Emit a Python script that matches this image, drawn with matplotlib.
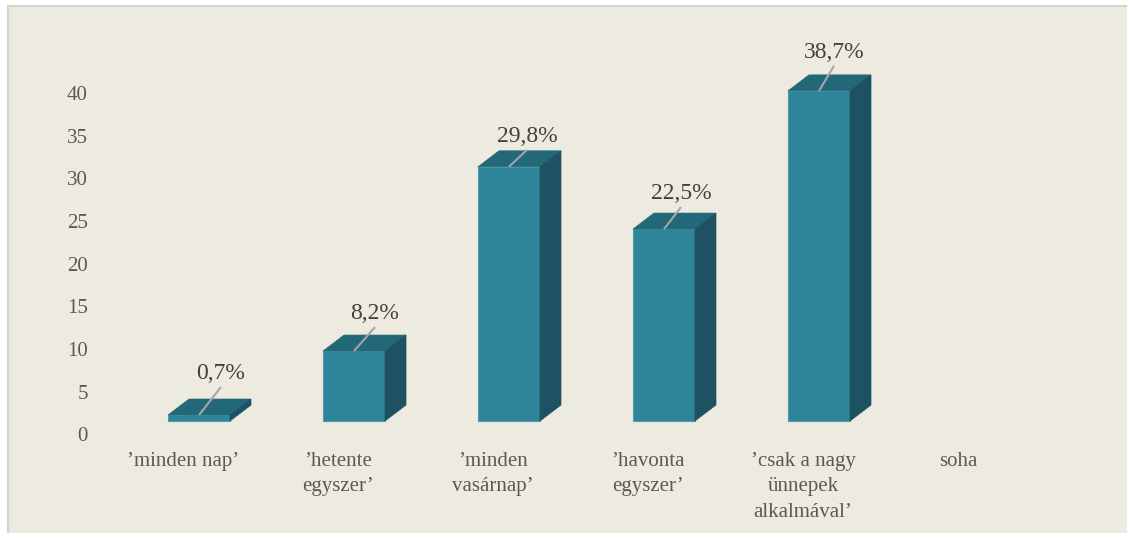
import matplotlib.pyplot as plt
from matplotlib.patches import Polygon, Rectangle

categories = ["’minden nap’", "’hetente\negyszer’", "’minden\nvasárnap’",
              "’havonta\negyszer’", "’csak a nagy\nünnepek\nalkalmával’", "soha"]
values = [0.7, 8.2, 29.8, 22.5, 38.7, None]
value_labels = ["0,7%", "8,2%", "29,8%", "22,5%", "38,7%"]
yticks = [0, 5, 10, 15, 20, 25, 30, 35, 40]

# leader line offsets for the value labels, in pixels (dx, dy)
leader_px = [(22, 28), (21, 24), (18, 17), (17, 22), (15, 25)]

W, H, DPI = 1127, 533, 100
fig = plt.figure(figsize=(W / DPI, H / DPI), dpi=DPI, facecolor="white")

# beige chart area with a light grey frame
fig.patches.append(Rectangle((8 / W, -0.1), 1.2, 1.1 - 6 / H, transform=fig.transFigure,
                             facecolor="#EDEAE0", edgecolor="#D4D4D4", linewidth=1.5,
                             zorder=-5))

ax = fig.add_axes([0, 0, 1, 1])
ax.set_facecolor("none")
ax.axis("off")

# pixel -> data scale: one category = 155 px, one unit = 8.53 px
px_x = 1 / 155
px_y = 1 / 8.53
ax.set_xlim(-199 * px_x, (W - 199) * px_x)
ax.set_ylim(-(H - 421) * px_y, 421 * px_y)

serif = ["Liberation Serif", "DejaVu Serif"]
front_c = "#2E8599"
top_c = "#236878"
side_c = "#1E5262"
edge_c = "#4E9CAE"

bw = 62 * px_x          # bar width
dx = 21 * px_x          # depth offset
dy = 16 * px_y

for i, v in enumerate(values):
    if v is None:
        continue
    x0 = i - bw / 2
    x1 = i + bw / 2
    ax.add_patch(Polygon([(x0, 0), (x1, 0), (x1, v), (x0, v)], closed=True,
                         facecolor=front_c, edgecolor=edge_c, linewidth=0.8, zorder=3))
    ax.add_patch(Polygon([(x0, v), (x1, v), (x1 + dx, v + dy), (x0 + dx, v + dy)],
                         closed=True, facecolor=top_c, edgecolor=top_c, linewidth=0.5,
                         zorder=3))
    ax.add_patch(Polygon([(x1, 0), (x1 + dx, dy), (x1 + dx, v + dy), (x1, v)],
                         closed=True, facecolor=side_c, edgecolor=side_c, linewidth=0.5,
                         zorder=3))
    # leader line and value label
    ldx, ldy = leader_px[i]
    lx1, ly1 = i + ldx * px_x, v + ldy * px_y
    ax.plot([i, lx1], [v, ly1], color="#A6A6A6", linewidth=1.5, zorder=4,
            solid_capstyle="butt")
    ax.text(lx1, ly1 + 8 * px_y, value_labels[i], ha="center", va="baseline",
            family=serif, fontsize=17, color="#404040", zorder=5)

# value axis labels
for t in yticks:
    ax.text(-111 * px_x, t - 1.85, str(t), ha="right", va="center",
            family=serif, fontsize=15, color="#595959")

# category labels
for i, c in enumerate(categories):
    ax.text(i - 16 * px_x, -31 * px_y, c, ha="center", va="top", family=serif,
            fontsize=15, color="#595959", linespacing=1.45)

fig.savefig("out.png", dpi=DPI, facecolor=fig.get_facecolor())
